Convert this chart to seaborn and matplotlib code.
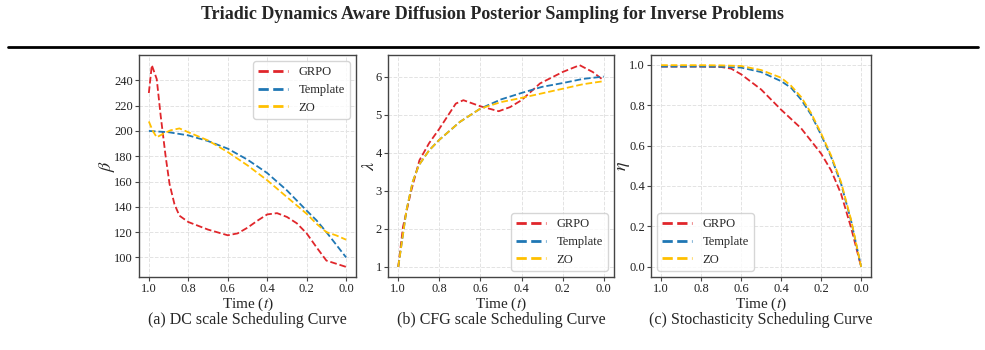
import numpy as np
import pandas as pd
import matplotlib
matplotlib.use("Agg")
import matplotlib.pyplot as plt
from matplotlib.lines import Line2D
import seaborn as sns

# ---- data ----
methods = ["GRPO", "Template", "ZO"]
colors = {"GRPO": "#e0262b", "Template": "#1f77b4", "ZO": "#ffc000"}

# (a) DC scale beta
dc_grpo_t = [1.0, 0.985, 0.96, 0.94, 0.915, 0.895, 0.87, 0.845, 0.8, 0.7, 0.6, 0.55, 0.5, 0.45, 0.4, 0.35, 0.3, 0.25, 0.2, 0.15, 0.1, 0.05, 0.0]
dc_grpo = [230, 252, 241, 212, 180, 158, 142, 133, 128, 122, 117.5, 119, 123.5, 129, 134, 135, 132, 127, 119, 108, 97.5, 95, 92.5]
dc_tmpl_t = [1.0, 0.9, 0.8, 0.7, 0.6, 0.5, 0.4, 0.3, 0.2, 0.15, 0.1, 0.05, 0.0]
dc_tmpl = [200, 199, 196.5, 192, 186, 177.3, 166.7, 153, 137, 129.3, 120, 110, 100]
dc_zo_t = [1.0, 0.98, 0.96, 0.93, 0.89, 0.845, 0.8, 0.7, 0.6, 0.5, 0.4, 0.3, 0.2, 0.15, 0.1, 0.05, 0.0]
dc_zo = [207.5, 200, 195, 197.5, 200.5, 202, 199, 192.5, 183.3, 172.8, 161, 147.7, 134.5, 126.6, 120, 117.4, 114]

# (b) CFG scale lambda
cfg_grpo_t = [1.0, 0.977, 0.937, 0.897, 0.85, 0.8, 0.72, 0.683, 0.6, 0.511, 0.455, 0.4, 0.31, 0.2, 0.117, 0.053, 0.0]
cfg_grpo = [1.0, 2.05, 3.0, 3.8, 4.25, 4.63, 5.29, 5.38, 5.22, 5.09, 5.2, 5.38, 5.82, 6.12, 6.3, 6.12, 5.9]
cfg_tmpl_t = [1.0, 0.96, 0.93, 0.9, 0.85, 0.8, 0.7, 0.6, 0.5, 0.4, 0.3, 0.2, 0.1, 0.0]
cfg_tmpl = [1.0, 2.49, 3.23, 3.67, 4.06, 4.34, 4.81, 5.16, 5.4, 5.57, 5.73, 5.83, 5.94, 6.0]
cfg_zo_t = [1.0, 0.96, 0.93, 0.9, 0.85, 0.8, 0.7, 0.6, 0.5, 0.4, 0.3, 0.2, 0.1, 0.0]
cfg_zo = [1.0, 2.49, 3.23, 3.67, 4.06, 4.34, 4.81, 5.16, 5.33, 5.44, 5.56, 5.68, 5.8, 5.88]

# (c) stochasticity eta
st_grpo_t = [1.0, 0.8, 0.7, 0.65, 0.6, 0.5, 0.4, 0.3, 0.2, 0.15, 0.1, 0.05, 0.0]
st_grpo = [0.99, 0.99, 0.988, 0.98, 0.952, 0.877, 0.777, 0.685, 0.56, 0.477, 0.36, 0.193, 0.0]
st_tmpl_t = [1.0, 0.8, 0.7, 0.6, 0.5, 0.4, 0.35, 0.3, 0.25, 0.2, 0.15, 0.1, 0.05, 0.0]
st_tmpl = [0.99, 0.99, 0.989, 0.985, 0.963, 0.918, 0.885, 0.827, 0.752, 0.652, 0.543, 0.41, 0.227, 0.0]
st_zo_t = [1.0, 0.8, 0.7, 0.6, 0.5, 0.4, 0.35, 0.3, 0.25, 0.2, 0.15, 0.1, 0.05, 0.0]
st_zo = [0.997, 0.997, 0.996, 0.993, 0.973, 0.935, 0.895, 0.84, 0.76, 0.66, 0.55, 0.418, 0.232, 0.0]

panels = [
    {"ylabel": r"$\beta$", "caption": "(a) DC scale Scheduling Curve", "legend": "upper right",
     "yticks": [100, 120, 140, 160, 180, 200, 220, 240],
     "series": {"GRPO": (dc_grpo_t, dc_grpo), "Template": (dc_tmpl_t, dc_tmpl), "ZO": (dc_zo_t, dc_zo)}},
    {"ylabel": r"$\lambda$", "caption": "(b) CFG scale Scheduling Curve", "legend": "lower right",
     "yticks": [1, 2, 3, 4, 5, 6],
     "series": {"GRPO": (cfg_grpo_t, cfg_grpo), "Template": (cfg_tmpl_t, cfg_tmpl), "ZO": (cfg_zo_t, cfg_zo)}},
    {"ylabel": r"$\eta$", "caption": "(c) Stochasticity Scheduling Curve", "legend": "lower left",
     "yticks": [0.0, 0.2, 0.4, 0.6, 0.8, 1.0],
     "series": {"GRPO": (st_grpo_t, st_grpo), "Template": (st_tmpl_t, st_tmpl), "ZO": (st_zo_t, st_zo)}},
]

sns.set_style("whitegrid")
plt.rcParams["font.family"] = ["Liberation Serif", "DejaVu Serif"]
plt.rcParams["mathtext.fontset"] = "stix"

fig = plt.figure(figsize=(9.85, 3.5), dpi=100)

# page header
fig.text(0.5, 0.958, "Triadic Dynamics Aware Diffusion Posterior Sampling for Inverse Problems",
         ha="center", va="center", fontsize=13, fontweight="bold")
fig.add_artist(Line2D([0.008, 0.993], [0.866, 0.866], transform=fig.transFigure, color="black", lw=2))

boxes = [[0.1411, 0.2086, 0.2203, 0.634],
         [0.3939, 0.2086, 0.2294, 0.634],
         [0.661, 0.2086, 0.2234, 0.634]]

for box, p in zip(boxes, panels):
    ax = fig.add_axes(box)
    for m in methods:
        t, v = p["series"][m]
        df = pd.DataFrame({"t": t, "v": v})
        sns.lineplot(data=df, x="t", y="v", ax=ax, color=colors[m], linestyle="--",
                     linewidth=1.3, label=m, estimator=None, sort=False)
    ax.invert_xaxis()
    ax.set_xticks([1.0, 0.8, 0.6, 0.4, 0.2, 0.0])
    ax.set_yticks(p["yticks"])
    ax.grid(True, linestyle="--", color="#e3e3e3", linewidth=0.7)
    for s in ax.spines.values():
        s.set_color("#444444")
        s.set_linewidth(1.0)
    ax.tick_params(axis="both", labelsize=9, length=3, color="#444444", colors="#222222",
                   left=True, bottom=True, pad=1.5)
    ax.set_xlabel(r"Time ($t$)", fontsize=11, labelpad=0)
    ax.set_ylabel(p["ylabel"], fontsize=13, labelpad=-2)
    leg = ax.legend(loc=p["legend"], fontsize=9, handlelength=2.4, labelspacing=0.45,
                    handletextpad=0.8, borderpad=0.4, frameon=True)
    for line in leg.get_lines():
        line.set_linewidth(2.0)
    leg.get_frame().set_edgecolor("#cccccc")
    ax.text(0.5, -0.195, p["caption"], transform=ax.transAxes, ha="center", va="center", fontsize=11.5)

fig.savefig("out.png", dpi=100)
